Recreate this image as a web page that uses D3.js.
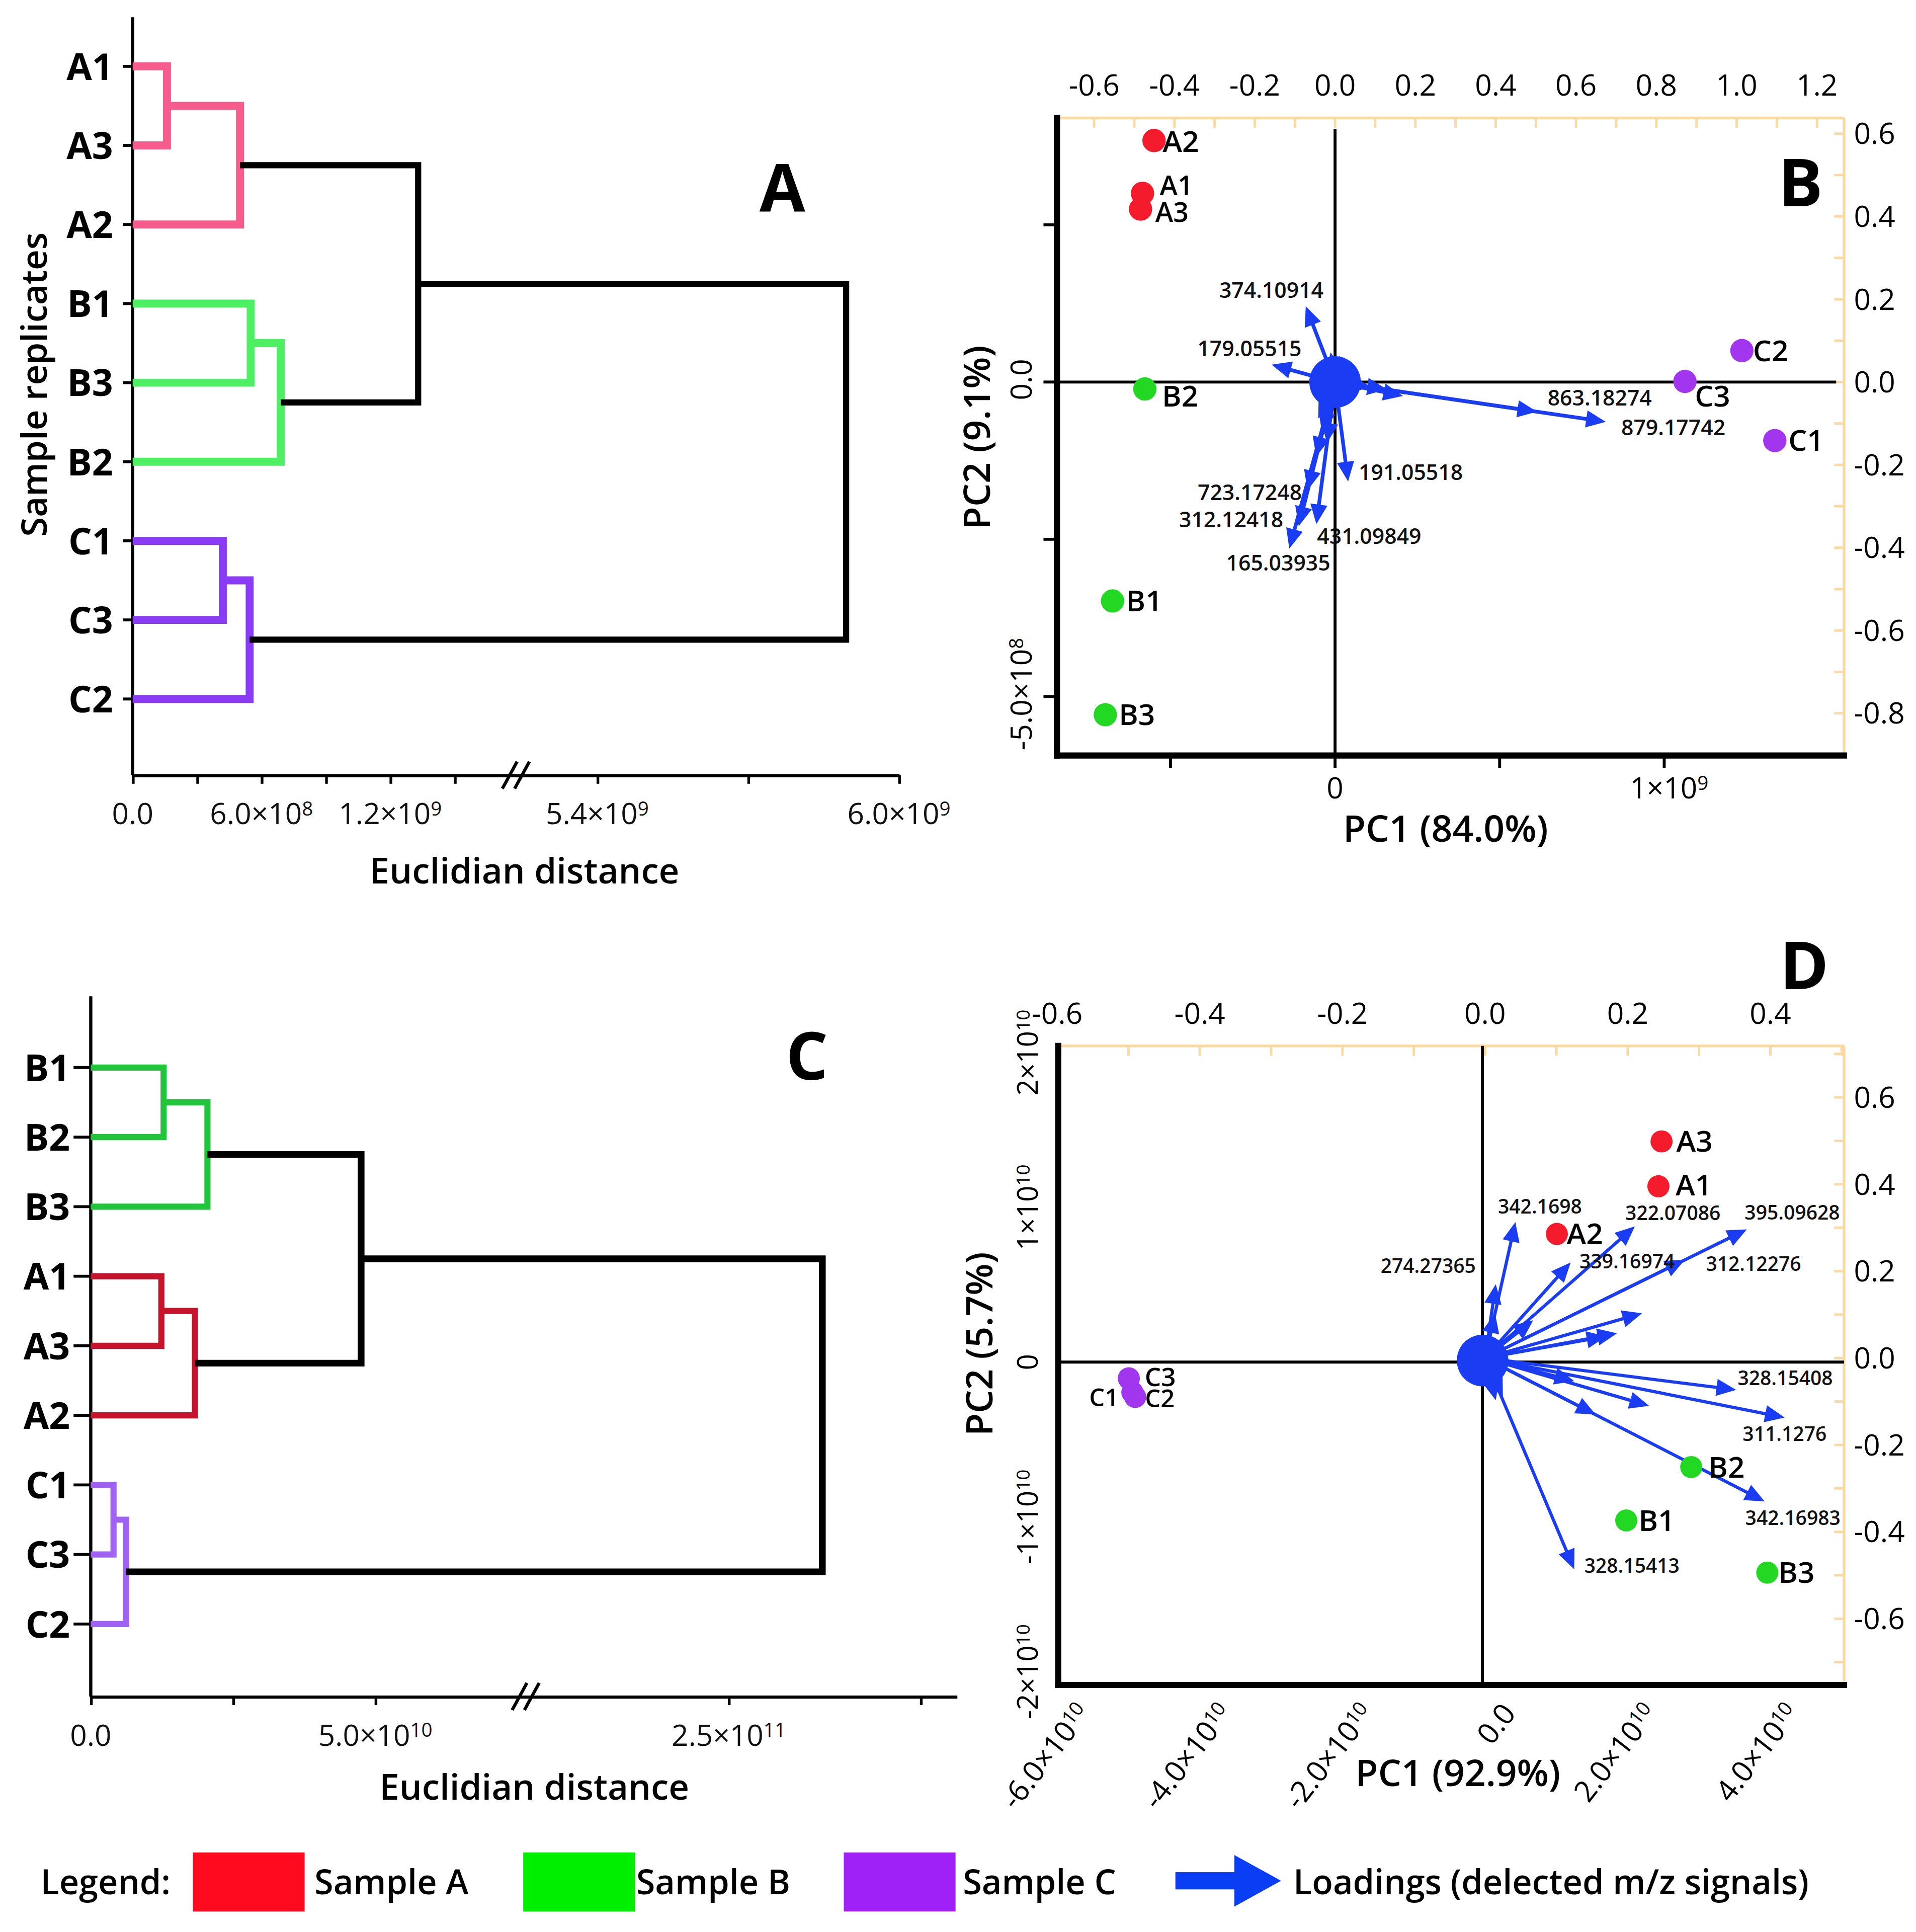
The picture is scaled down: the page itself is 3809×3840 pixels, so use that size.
<!DOCTYPE html>
<html><head><meta charset="utf-8">
<script src="https://cdn.jsdelivr.net/npm/d3@7"></script>
<style>html,body{margin:0;padding:0;background:#fff;} svg{display:block;}</style>
</head><body>
<script>
// ================= DATA =================
// Panel A: hierarchical clustering (Euclidian distance)
const leavesA = ["A1","A3","A2","B1","B3","B2","C1","C3","C2"];
const mergeIdsA = ["a13","a","b13","b","ab","c13","c","root"];
const mergeChildrenA = [["A1","A3"],["a13","A2"],["B1","B3"],["b13","B2"],["a","b"],["C1","C3"],["c13","C2"],["ab","c"]];
const mergeHeightsA = [1.6e8, 5.0e8, 5.5e8, 6.9e8, 1.33e9, 4.2e8, 5.45e8, 5.895e9];
const mergeGroupsA = ["A","A","B","B",null,"C","C",null];
const distTicksA = [0, 3e8, 6e8, 9e8, 1.2e9, 1.5e9, 5.4e9, 5.7e9, 6.0e9];
const distLabelValuesA = [0, 6e8, 1.2e9, 5.4e9, 6.0e9];
const distLabelTextsA = ["0.0", "6.0×10^8", "1.2×10^9", "5.4×10^9", "6.0×10^9"];

// Panel C: hierarchical clustering
const leavesC = ["B1","B2","B3","A1","A3","A2","C1","C3","C2"];
const mergeIdsC = ["b12","b","a13","a","ba","c13","c","root"];
const mergeChildrenC = [["B1","B2"],["b12","B3"],["A1","A3"],["a13","A2"],["b","a"],["C1","C3"],["c13","C2"],["ba","c"]];
const mergeHeightsC = [1.28e10, 2.05e10, 1.24e10, 1.83e10, 4.75e10, 0.40e10, 0.62e10, 2.744e11];
const mergeGroupsC = ["B","B","A","A",null,"C","C",null];
const distTicksC = [0, 2.5e10, 5e10, 2.5e11, 3.0e11];
const distLabelValuesC = [0, 5e10, 2.5e11];
const distLabelTextsC = ["0.0", "5.0×10^10", "2.5×10^11"];

// Panel B: PCA scores
const samples = ["A1","A2","A3","B1","B2","B3","C1","C2","C3"];
const sampleGroups = ["A","A","A","B","B","B","C","C","C"];
const pc1B = [-0.585e9, -0.550e9, -0.591e9, -0.676e9, -0.578e9, -0.698e9, 1.336e9, 1.236e9, 1.063e9];
const pc2B = [0.300e9, 0.384e9, 0.275e9, -0.348e9, -0.011e9, -0.529e9, -0.093e9, 0.050e9, 0.001e9];
// Panel B: loadings
const loadNamesB = ["374.10914","179.05515","863.18274","879.17742","191.05518","723.17248","312.12418","431.09849","165.03935","","","","","","","","",""];
const loadPC1B = [-0.073,-0.158,0.503,0.674,0.0325,-0.0686,-0.0905,-0.0466,-0.114,0.129,0.169,0.0897,-0.042,-0.033,-0.020,-0.047,-0.011,0.011];
const loadPC2B = [0.183,0.042,-0.0716,-0.096,-0.240,-0.261,-0.348,-0.343,-0.402,-0.0173,-0.0336,-0.0119,-0.088,-0.120,-0.147,-0.180,0.072,0.064];
const scoreTicksXB = [-5e8, 0, 5e8, 1e9];
const scoreTicksYB = [2.5e8, 0, -2.5e8, -5e8];
const scoreLabelXB = [[0,"0"],[1e9,"1×10^9"]];
const scoreLabelYB = [[0,"0.0"],[-5e8,"-5.0×10^8"]];
const loadTicksXB = [-0.6,-0.4,-0.2,0.0,0.2,0.4,0.6,0.8,1.0,1.2];
const loadTicksYB = [0.6,0.4,0.2,0.0,-0.2,-0.4,-0.6,-0.8];

// Panel D: PCA scores
const pc1D = [2.483e10, 1.050e10, 2.527e10, 2.029e10, 2.946e10, 4.019e10, -4.94e10, -4.90e10, -4.99e10];
const pc2D = [1.136e10, 0.828e10, 1.426e10, -1.023e10, -0.678e10, -1.360e10, -0.195e10, -0.225e10, -0.105e10];
// Panel D: loadings
const loadNamesD = ["342.1698","322.07086","395.09628","339.16974","312.12276","274.27365","","","","","","328.15408","311.1276","342.16983","328.15413","","","","",""];
const loadPC1D = [0.0425,0.210,0.367,0.120,0.280,0.015,0.014,0.220,0.185,0.170,0.0675,0.352,0.420,0.392,0.125,0.125,0.230,0.155,0.025,0.015];
const loadPC2D = [0.313,0.303,0.296,0.220,0.226,0.170,0.103,0.103,0.057,0.050,0.087,-0.0733,-0.137,-0.330,-0.486,-0.053,-0.110,-0.130,-0.090,-0.097];
const scoreTicksXD = [-6e10,-4e10,-2e10,0,2e10,4e10];
const scoreLabelXD = ["-6.0×10^10","-4.0×10^10","-2.0×10^10","0.0","2.0×10^10","4.0×10^10"];
const scoreTicksYD = [2e10,1e10,0,-1e10,-2e10];
const scoreLabelYD = ["2×10^10","1×10^10","0","-1×10^10","-2×10^10"];
const loadTicksXD = [-0.6,-0.4,-0.2,0.0,0.2,0.4];
const loadTicksYD = [0.6,0.4,0.2,0.0,-0.2,-0.4,-0.6];

const legendLabels = ["Sample A","Sample B","Sample C"];
const legendArrowLabel = "Loadings (delected m/z signals)";

// ================= LAYOUT / STYLE =================
const W = 1560, H = 1572.7;
const FONT = "'Open Sans','Noto Sans','DejaVu Sans',sans-serif";
const colorsA = {A:"#f65c8c", B:"#4cf062", C:"#8a3cf4"};
const colorsC = {A:"#c5142c", B:"#22c43c", C:"#a062f2"};
const scoreColors = {A:"#f41c2c", B:"#22d822", C:"#a236ef"};
const BLUE = "#1a3cf2";
const ORANGE = "#fcd9a0";

const svg = d3.select("body").append("svg")
  .attr("width", 3809).attr("height", 3840)
  .attr("viewBox", `0 0 ${W} ${H}`)
  .style("font-family", FONT);
svg.append("rect").attr("width", W).attr("height", H).attr("fill", "#fff");

function sciText(sel, str) {
  const parts = str.split("^");
  sel.append("tspan").text(parts[0]);
  if (parts[1]) sel.append("tspan").attr("dy", "-0.45em").attr("font-size", "0.66em").text(parts[1]);
  return sel;
}

// ---------- dendrogram ----------
function drawDendro(cfg) {
  const g = svg.append("g");
  const x = d3.scaleLinear().domain(cfg.xDomain).range(cfg.xRange);
  const y = d3.scalePoint().domain(cfg.leaves).range(cfg.yRange);
  const x0 = x(0);
  g.append("line").attr("x1", x0).attr("x2", x0).attr("y1", cfg.axisTop).attr("y2", cfg.axisY)
    .attr("stroke", "#000").attr("stroke-width", 2.6);
  const xa = g.append("g").attr("transform", `translate(0,${cfg.axisY})`)
    .call(d3.axisBottom(x).tickValues(cfg.ticks).tickSize(7).tickSizeOuter(0).tickFormat(""));
  xa.select(".domain").attr("stroke-width", 2.6);
  xa.selectAll(".tick line").attr("stroke-width", 2.2);
  const bx = cfg.breakX, by = cfg.axisY;
  [-5, 5].forEach(o => {
    g.append("line").attr("x1", bx + o - 6).attr("y1", by + 11).attr("x2", bx + o + 6).attr("y2", by - 11)
      .attr("stroke", "#000").attr("stroke-width", 2.6);
  });
  cfg.labelValues.forEach((v, i) => {
    const t = g.append("text").attr("x", x(v)).attr("y", cfg.axisY + 40).attr("text-anchor", "middle")
      .attr("font-size", 24).attr("font-weight", 500).attr("fill", "#111");
    sciText(t, cfg.labelTexts[i]);
  });
  cfg.leaves.forEach(l => {
    g.append("line").attr("x1", x0 - cfg.leafTick).attr("x2", x0).attr("y1", y(l)).attr("y2", y(l))
      .attr("stroke", "#000").attr("stroke-width", 2.4);
    g.append("text").attr("x", cfg.leafLabelX).attr("y", y(l) + 11).attr("text-anchor", "end")
      .attr("font-size", 30).attr("font-weight", 700).text(l);
  });
  const pos = {};
  cfg.leaves.forEach(l => pos[l] = {x: x0, y: y(l)});
  cfg.ids.forEach((id, i) => {
    const c1 = pos[cfg.children[i][0]], c2 = pos[cfg.children[i][1]];
    const xn = x(cfg.heights[i]);
    const grp = cfg.groups[i];
    g.append("path").attr("d", `M${c1.x},${c1.y}H${xn}V${c2.y}H${c2.x}`)
      .attr("fill", "none").attr("stroke", grp ? cfg.colors[grp] : "#000")
      .attr("stroke-width", grp ? cfg.lwColor : cfg.lwBlack)
      .attr("stroke-linejoin", "miter");
    pos[id] = {x: xn, y: (c1.y + c2.y) / 2};
  });
  g.append("text").attr("x", cfg.titleX).attr("y", cfg.titleY).attr("text-anchor", "middle")
    .attr("font-size", 29).attr("font-weight", 600).text("Euclidian distance");
  g.append("text").attr("x", cfg.letterX).attr("y", cfg.letterY).attr("text-anchor", "middle")
    .attr("font-size", 54).attr("font-weight", 700).text(cfg.letter);
  return g;
}

drawDendro({
  leaves: leavesA, ids: mergeIdsA, children: mergeChildrenA, heights: mergeHeightsA, groups: mergeGroupsA,
  colors: colorsA, lwColor: 6.5, lwBlack: 5,
  xDomain: [0, 1.785e9, 5.238e9, 6.0e9], xRange: [108, 420, 420, 731.9],
  yRange: [54, 569], axisTop: 14, axisY: 631, breakX: 420,
  ticks: distTicksA, labelValues: distLabelValuesA, labelTexts: distLabelTextsA,
  leafTick: 8, leafLabelX: 92, titleX: 427, titleY: 719, letterX: 637, letterY: 172, letter: "A"
});
svg.append("text").attr("transform", "translate(38,313) rotate(-90)").attr("text-anchor", "middle")
  .attr("font-size", 29).attr("font-weight", 600).text("Sample replicates");

drawDendro({
  leaves: leavesC, ids: mergeIdsC, children: mergeChildrenC, heights: mergeHeightsC, groups: mergeGroupsC,
  colors: colorsC, lwColor: 5, lwBlack: 5.5,
  xDomain: [0, 7.637e10, 1.971e11, 3.094e11], xRange: [73.9, 427.8, 427.8, 779],
  yRange: [869, 1322], axisTop: 811, axisY: 1381, breakX: 428,
  ticks: distTicksC, labelValues: distLabelValuesC, labelTexts: distLabelTextsC,
  leafTick: 14, leafLabelX: 57, titleX: 435, titleY: 1465, letterX: 657, letterY: 879, letter: "C"
});

// ---------- PCA biplot ----------
function arrow(g, x0, y0, x1, y1, len, hw, sw) {
  const dx = x1 - x0, dy = y1 - y0, L = Math.hypot(dx, dy);
  if (L < 1) return;
  const ux = dx / L, uy = dy / L;
  const l = Math.min(len, L * 0.9);
  const bx = x1 - ux * l, by = y1 - uy * l;
  g.append("line").attr("x1", x0).attr("y1", y0).attr("x2", bx + ux * 2).attr("y2", by + uy * 2)
    .attr("stroke", BLUE).attr("stroke-width", sw);
  g.append("path").attr("d", `M${x1},${y1}L${bx - uy * hw},${by + ux * hw}L${bx + uy * hw},${by - ux * hw}Z`)
    .attr("fill", BLUE);
}

function drawPCA(cfg) {
  const g = svg.append("g");
  const xs = d3.scaleLinear().domain(cfg.scoreX).range([cfg.left, cfg.right]);
  const ys = d3.scaleLinear().domain(cfg.scoreY).range([cfg.bottom, cfg.top]);
  const xl = d3.scaleLinear().domain(cfg.loadX).range([cfg.left, cfg.right]);
  const yl = d3.scaleLinear().domain(cfg.loadY).range([cfg.bottom, cfg.top]);

  g.append("line").attr("x1", cfg.left).attr("x2", cfg.right).attr("y1", cfg.top).attr("y2", cfg.top)
    .attr("stroke", ORANGE).attr("stroke-width", 2.2);
  g.append("line").attr("x1", cfg.right).attr("x2", cfg.right).attr("y1", cfg.top).attr("y2", cfg.bottom)
    .attr("stroke", ORANGE).attr("stroke-width", 2.2);
  const minorX = d3.range(Math.ceil(cfg.loadX[0] * 10), Math.floor(cfg.loadX[1] * 10) + 1).map(d => d / 10);
  const minorY = d3.range(Math.ceil(cfg.loadY[0] * 10), Math.floor(cfg.loadY[1] * 10) + 1).map(d => d / 10);
  minorX.forEach(v => g.append("line").attr("x1", xl(v)).attr("x2", xl(v)).attr("y1", cfg.top).attr("y2", cfg.top + 8)
    .attr("stroke", ORANGE).attr("stroke-width", 2));
  minorY.forEach(v => g.append("line").attr("x1", cfg.right - 8).attr("x2", cfg.right).attr("y1", yl(v)).attr("y2", yl(v))
    .attr("stroke", ORANGE).attr("stroke-width", 2));
  cfg.loadTicksX.forEach(v => g.append("text").attr("x", xl(v)).attr("y", cfg.top - 18).attr("text-anchor", "middle")
    .attr("font-size", 24).attr("font-weight", 500).text(v.toFixed(1)));
  cfg.loadTicksY.forEach(v => g.append("text").attr("x", cfg.right + 8).attr("y", yl(v) + 8.5).attr("text-anchor", "start")
    .attr("font-size", 24).attr("font-weight", 500).text(v.toFixed(1)));

  g.append("line").attr("x1", xs(0)).attr("x2", xs(0)).attr("y1", cfg.vTop).attr("y2", cfg.bottom)
    .attr("stroke", "#000").attr("stroke-width", 2.4);
  g.append("line").attr("x1", cfg.left).attr("x2", cfg.hRight).attr("y1", ys(0)).attr("y2", ys(0))
    .attr("stroke", "#000").attr("stroke-width", 2.4);

  g.append("line").attr("x1", cfg.left).attr("x2", cfg.left).attr("y1", cfg.top).attr("y2", cfg.bottom)
    .attr("stroke", "#000").attr("stroke-width", 5).attr("stroke-linecap", "square");
  g.append("line").attr("x1", cfg.left).attr("x2", cfg.right).attr("y1", cfg.bottom).attr("y2", cfg.bottom)
    .attr("stroke", "#000").attr("stroke-width", 5).attr("stroke-linecap", "square");
  (cfg.scoreTicksX || []).forEach(v => g.append("line").attr("x1", xs(v)).attr("x2", xs(v))
    .attr("y1", cfg.bottom).attr("y2", cfg.bottom + 10).attr("stroke", "#000").attr("stroke-width", 2.4));
  (cfg.scoreTicksY || []).forEach(v => g.append("line").attr("x1", cfg.left - 11).attr("x2", cfg.left)
    .attr("y1", ys(v)).attr("y2", ys(v)).attr("stroke", "#000").attr("stroke-width", 2.4));
  cfg.scoreLabelsX(g, xs);
  cfg.scoreLabelsY(g, ys);

  const ox = xl(0), oy = yl(0);
  const ag = g.append("g");
  cfg.loadPC1.forEach((v, i) => {
    arrow(ag, ox, oy, xl(v), yl(cfg.loadPC2[i]), 16, 7, cfg.arrowW);
  });
  g.append("circle").attr("cx", ox + cfg.circleDx).attr("cy", oy + cfg.circleDy).attr("r", 21).attr("fill", BLUE);
  cfg.loadNames.forEach((n, i) => {
    if (!n) return;
    const off = cfg.loadLabelOffsets[n];
    g.append("text").attr("x", xl(cfg.loadPC1[i]) + off[0]).attr("y", yl(cfg.loadPC2[i]) + off[1] + 6)
      .attr("text-anchor", "middle").attr("font-size", cfg.loadFont).attr("font-weight", 600)
      .attr("fill", "#111").text(n);
  });

  samples.forEach((s, i) => {
    const px = xs(cfg.pc1[i]), py = ys(cfg.pc2[i]);
    g.append("circle").attr("cx", px).attr("cy", py).attr("r", cfg.dotR)
      .attr("fill", scoreColors[sampleGroups[i]]);
  });
  samples.forEach((s, i) => {
    const px = xs(cfg.pc1[i]), py = ys(cfg.pc2[i]);
    const o = cfg.scoreLabelOffsets[s];
    g.append("text").attr("x", px + o[0]).attr("y", py + o[1] + 8.5)
      .attr("text-anchor", o[2] || "start").attr("font-size", o[3] || 24).attr("font-weight", 600).text(s);
  });

  g.append("text").attr("x", cfg.xTitle[0]).attr("y", cfg.xTitle[1]).attr("text-anchor", "middle")
    .attr("font-size", 30).attr("font-weight", 600).text(cfg.xTitleText);
  g.append("text").attr("transform", `translate(${cfg.yTitle[0]},${cfg.yTitle[1]}) rotate(-90)`)
    .attr("text-anchor", "middle").attr("font-size", 30).attr("font-weight", 600).text(cfg.yTitleText);
  g.append("text").attr("x", cfg.letter[0]).attr("y", cfg.letter[1]).attr("text-anchor", "middle")
    .attr("font-size", 54).attr("font-weight", 700).text(cfg.letter[2]);
}

drawPCA({
  left: 860.6, right: 1501.4, top: 96, bottom: 615, vTop: 105, hRight: 1495,
  scoreX: [-0.8448e9, 1.5463e9], scoreY: [-0.5938e9, 0.4199e9],
  loadX: [-0.6924, 1.2673], loadY: [-0.902, 0.638],
  loadTicksX: loadTicksXB, loadTicksY: loadTicksYB,
  scoreTicksX: scoreTicksXB, scoreTicksY: scoreTicksYB,
  scoreLabelsX: (g, xs) => scoreLabelXB.forEach(d => sciText(g.append("text").attr("x", xs(d[0]) + (d[0] ? 4 : 0)).attr("y", 650)
      .attr("text-anchor", "middle").attr("font-size", 24).attr("font-weight", 500), d[1])),
  scoreLabelsY: (g, ys) => scoreLabelYB.forEach(d => sciText(g.append("text")
      .attr("transform", `translate(840,${ys(d[0]) - 2}) rotate(-90)`).attr("text-anchor", "middle").attr("font-size", 24).attr("font-weight", 500), d[1])),
  pc1: pc1B, pc2: pc2B,
  loadNames: loadNamesB, loadPC1: loadPC1B, loadPC2: loadPC2B, arrowW: 3, loadFont: 17.5,
  circleDx: 0, circleDy: 0, dotR: 9.5,
  loadLabelOffsets: {
    "374.10914": [-28, -13], "179.05515": [-18, -13], "863.18274": [51, -11], "879.17742": [55, 5],
    "191.05518": [51, -7], "723.17248": [-47, 2], "312.12418": [-55, -5], "431.09849": [43, 10], "165.03935": [-9, 12]
  },
  scoreLabelOffsets: {
    A1: [14, -7, "start", 22], A2: [7, 1], A3: [12, 2, "start", 22], B1: [11, 0], B2: [14, 6], B3: [11, 0],
    C1: [11, 0], C2: [9, 0], C3: [8, 12]
  },
  xTitle: [1177, 685], xTitleText: "PC1 (84.0%)",
  yTitle: [806, 356], yTitleText: "PC2 (9.1%)",
  letter: [1466, 168, "B"]
});

drawPCA({
  left: 861.6, right: 1501.4, top: 851.4, bottom: 1371.6, vTop: 851.4, hRight: 1501.4,
  scoreX: [-5.986e10, 5.102e10], scoreY: [-2.086e10, 2.043e10],
  loadX: [-0.5985, 0.5033], loadY: [-0.7524, 0.7184],
  loadTicksX: loadTicksXD, loadTicksY: loadTicksYD,
  scoreTicksX: [], scoreTicksY: [],
  scoreLabelsX: (g, xs) => scoreTicksXD.forEach((v, i) => sciText(g.append("text")
      .attr("transform", `translate(${xs(v) + 14},1384) rotate(-52)`).attr("text-anchor", "end")
      .attr("dy", "0.75em").attr("font-size", 24).attr("font-weight", 500), scoreLabelXD[i])),
  scoreLabelsY: (g, ys) => scoreTicksYD.forEach((v, i) => sciText(g.append("text")
      .attr("transform", `translate(845,${ys(v)}) rotate(-90)`).attr("text-anchor", "middle").attr("font-size", 23).attr("font-weight", 500), scoreLabelYD[i])),
  pc1: pc1D, pc2: pc2D,
  loadNames: loadNamesD, loadPC1: loadPC1D, loadPC2: loadPC2D, arrowW: 2.6, loadFont: 16,
  circleDx: -2, circleDy: 2, dotR: 9,
  loadLabelOffsets: {
    "342.1698": [20, -13], "322.07086": [31, -11], "395.09628": [37, -14], "339.16974": [46, -1],
    "312.12276": [56, 3], "274.27365": [-55, -15], "328.15408": [40, -10], "311.1276": [0, 13],
    "342.16983": [23, 13], "328.15413": [47, -3]
  },
  scoreLabelOffsets: {
    A1: [14, -1], A2: [8, 0], A3: [12, 0], B1: [10, 0], B2: [14, 0], B3: [9, 0],
    C1: [-11, 3, "end", 20], C2: [8, 0, "start", 20], C3: [13, -2, "start", 21]
  },
  xTitle: [1187, 1454], xTitleText: "PC1 (92.9%)",
  yTitle: [808, 1094], yTitleText: "PC2 (5.7%)",
  letter: [1469, 805, "D"]
});

// ---------- legend ----------
const lg = svg.append("g");
lg.append("text").attr("x", 33).attr("y", 1542).attr("font-size", 28).attr("font-weight", 600).text("Legend:");
const legendRectX = [157, 426, 687];
const legendTextX = [256, 518, 784];
const legendColors = ["#ff0a1e", "#00ee00", "#a021f8"];
legendLabels.forEach((t, i) => {
  lg.append("rect").attr("x", legendRectX[i]).attr("y", 1508).attr("width", 91).attr("height", 48).attr("fill", legendColors[i]);
  lg.append("text").attr("x", legendTextX[i]).attr("y", 1542).attr("font-size", 28).attr("font-weight", 600).text(t);
});
lg.append("rect").attr("x", 957).attr("y", 1524).attr("width", 52).attr("height", 14).attr("fill", "#0a3ef5");
lg.append("path").attr("d", "M1005,1510L1043,1531L1005,1552Z").attr("fill", "#0a3ef5");
lg.append("text").attr("x", 1053).attr("y", 1542).attr("font-size", 28).attr("font-weight", 600).text(legendArrowLabel);
</script>
</body></html>
